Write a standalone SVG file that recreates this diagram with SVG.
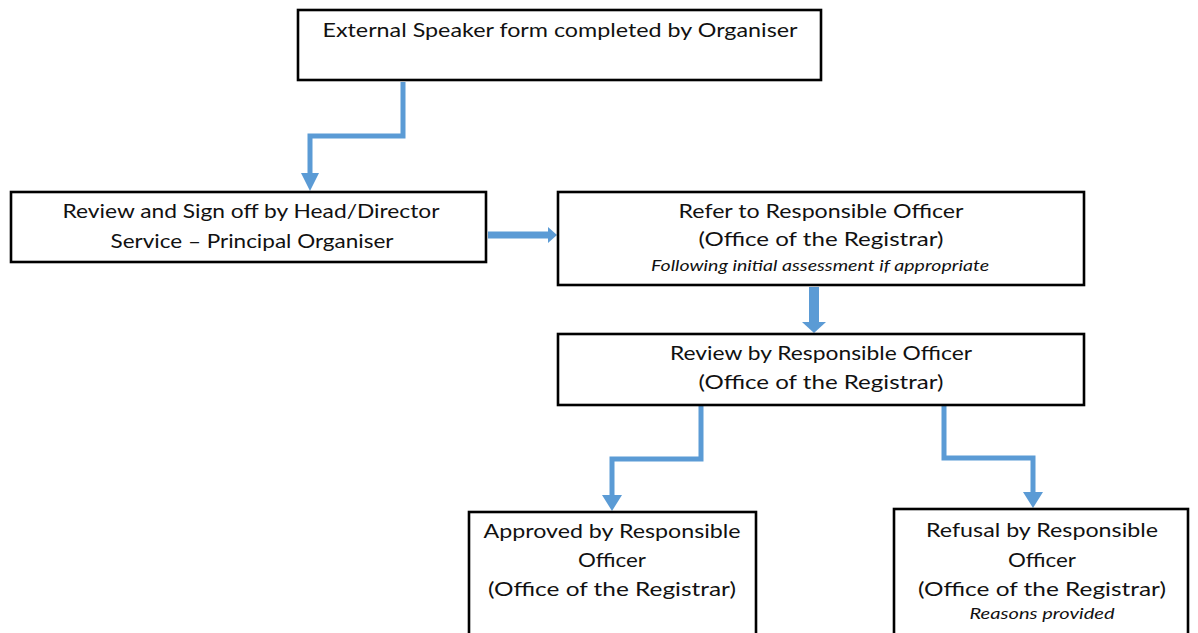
<svg xmlns="http://www.w3.org/2000/svg" width="1198" height="633" viewBox="0 0 1198 633">
<style>
.box{fill:#fff;stroke:#000;stroke-width:2.6}
.t{font-family:Lato,"Liberation Sans",sans-serif;font-size:20px;fill:#111;text-anchor:middle}
.i{font-family:Lato,"Liberation Sans",sans-serif;font-size:16px;font-style:italic;fill:#111;text-anchor:middle}
.sh{fill:none;stroke:#5B9BD5;stroke-linejoin:miter}
.hd{fill:#5B9BD5}
</style>
<rect width="1198" height="633" fill="#fff"/>
<g id="connectors">
<path class="sh" stroke-width="5" d="M403,82 V136 H310 V174"/>
<polygon class="hd" points="301,173 319,173 310,191"/>
<path class="sh" stroke-width="7" d="M488,235 H549"/>
<polygon class="hd" points="548,227 548,243 557,235"/>
<path class="sh" stroke-width="10" d="M814,287 V323"/>
<polygon class="hd" points="802,322 826,322 814,333"/>
<path class="sh" stroke-width="5" d="M701,406 V459 H612 V496"/>
<polygon class="hd" points="602,495 622,495 612,511"/>
<path class="sh" stroke-width="5" d="M944,406 V458 H1033 V493"/>
<polygon class="hd" points="1023,492 1043,492 1033,508"/>
</g>
<g id="node-external">
<rect class="box" x="298" y="10" width="523" height="70"/>
<text class="t" x="560" y="37" textLength="475" lengthAdjust="spacingAndGlyphs">External Speaker form  completed by Organiser</text>
</g>
<g id="node-review-signoff">
<rect class="box" x="11" y="192" width="475" height="70"/>
<text class="t" x="251" y="218" textLength="377" lengthAdjust="spacingAndGlyphs">Review and Sign off by Head/Director</text>
<text class="t" x="252" y="248" textLength="283" lengthAdjust="spacingAndGlyphs">Service – Principal Organiser</text>
</g>
<g id="node-refer">
<rect class="box" x="558" y="192" width="526" height="93"/>
<text class="t" x="821" y="218" textLength="285" lengthAdjust="spacingAndGlyphs">Refer to Responsible Officer</text>
<text class="t" x="821" y="246" textLength="245" lengthAdjust="spacingAndGlyphs">(Office of the Registrar)</text>
<text class="i" x="820" y="271" textLength="338" lengthAdjust="spacingAndGlyphs">Following initial assessment if appropriate</text>
</g>
<g id="node-review-ro">
<rect class="box" x="558" y="334" width="526" height="71"/>
<text class="t" x="821" y="360" textLength="302" lengthAdjust="spacingAndGlyphs">Review by Responsible Officer</text>
<text class="t" x="821" y="389" textLength="245" lengthAdjust="spacingAndGlyphs">(Office of the Registrar)</text>
</g>
<g id="node-approved">
<rect class="box" x="469" y="512" width="287" height="130"/>
<text class="t" x="612" y="538" textLength="257" lengthAdjust="spacingAndGlyphs">Approved by Responsible</text>
<text class="t" x="612" y="567" textLength="68" lengthAdjust="spacingAndGlyphs">Officer</text>
<text class="t" x="612" y="596" textLength="248" lengthAdjust="spacingAndGlyphs">(Office of the Registrar)</text>
</g>
<g id="node-refusal">
<rect class="box" x="894" y="509" width="294" height="130"/>
<text class="t" x="1042" y="537" textLength="232" lengthAdjust="spacingAndGlyphs">Refusal by Responsible</text>
<text class="t" x="1042" y="567" textLength="68" lengthAdjust="spacingAndGlyphs">Officer</text>
<text class="t" x="1042" y="596" textLength="248" lengthAdjust="spacingAndGlyphs">(Office of the Registrar)</text>
<text class="i" x="1042" y="619" textLength="145" lengthAdjust="spacingAndGlyphs">Reasons provided</text>
</g>
</svg>
